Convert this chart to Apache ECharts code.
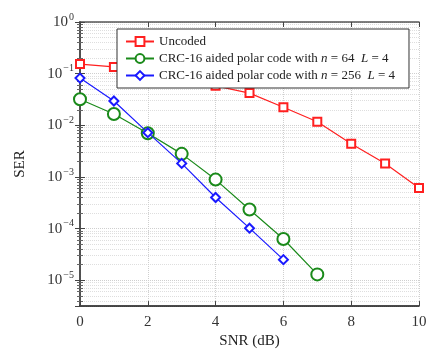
<!DOCTYPE html>
<html>
<head>
<meta charset="utf-8">
<script src="https://cdn.jsdelivr.net/npm/echarts@6/dist/echarts.min.js"></script>
<style>
  html, body { margin: 0; padding: 0; background: #fff; }
  #chart { width: 437px; height: 354px; }
</style>
</head>
<body>
<div id="chart"></div>
<script>
// SNR points (dB)
const snr = [0, 1, 2, 3, 4, 5, 6, 7, 8, 9, 10];

// SER
const uncoded = [0.153, 0.135, 0.105, 0.078, 0.058, 0.042, 0.0224, 0.0117, 0.0044, 0.00183, 0.00061];
const polar64 = [0.032, 0.0166, 0.0070, 0.0028, 0.00089, 0.000234, 0.000063, 0.000013];
const polar256 = [0.082, 0.0296, 0.0072, 0.00183, 0.0004, 0.000102, 0.0000251];

const seriesNames = [
  "Uncoded",
  "CRC-16 aided polar code with n = 64 L = 4",
  "CRC-16 aided polar code with n = 256 L = 4",
];

const RED = "#ff2020";
const GREEN = "#1a8a1a";
const BLUE = "#1a1aff";
const FONT = "Liberation Serif";
const GRIDLINE = "#cfcfcf";

const pairs = (ys) => ys.map((y, i) => [snr[i], y]);

const chart = echarts.init(document.getElementById("chart"));

// 10^k labels, blank for the non-decade bottom edge
const expLabel = (v) => {
  const e = Math.round(Math.log10(v));
  if (Math.abs(Math.log10(v) - e) > 1e-6) return "";
  const s = e < 0 ? "\u2212" + (-e) : String(e);
  return "{b|10}{s|" + s + "}";
};

const legendLabel = (name) => {
  const m = name.match(/^(CRC-16 aided polar code with) n = (\d+) L = (\d+)$/);
  if (!m) return name;
  return m[1] + " {i|n} = " + m[2] + "  {i|L} = " + m[3];
};

chart.setOption({
  animation: false,
  grid: { left: 80, right: 18, top: 22, bottom: 47 },
  legend: {
    data: seriesNames,
    orient: "vertical",
    left: 117, top: 29,
    padding: [6, 14, 6, 8],
    itemGap: 4,
    itemWidth: 28,
    itemHeight: 11,
    backgroundColor: "#fff",
    borderColor: "#333",
    borderWidth: 1,
    formatter: legendLabel,
    textStyle: {
      fontFamily: FONT, fontSize: 13, color: "#222",
      rich: { i: { fontFamily: FONT, fontStyle: "italic", fontSize: 13, color: "#222" } },
    },
  },
  xAxis: [
    {
      type: "value",
      min: 0, max: 10, interval: 2,
      name: "SNR (dB)",
      nameLocation: "middle",
      nameGap: 25,
      nameTextStyle: { fontFamily: FONT, fontSize: 15, color: "#222" },
      axisLine: { lineStyle: { color: "#111", width: 1.5 } },
      axisTick: { inside: true, length: 5, lineStyle: { color: "#444" } },
      axisLabel: { fontFamily: FONT, fontSize: 15, color: "#333", margin: 8 },
      splitLine: { show: true, lineStyle: { color: GRIDLINE, type: "dotted" } },
    },
    {
      type: "value",
      position: "top",
      min: 0, max: 10, interval: 2,
      axisLine: { lineStyle: { color: "#555", width: 1.5 } },
      axisTick: { inside: true, length: 5, lineStyle: { color: "#444" } },
      axisLabel: { show: false },
      splitLine: { show: false },
    },
  ],
  yAxis: [
    {
      type: "log",
      logBase: 10,
      min: Math.pow(10, -5.5), max: 1,
      name: "SER",
      nameLocation: "middle",
      nameGap: 52,
      nameTextStyle: { fontFamily: FONT, fontSize: 15, color: "#222" },
      axisLine: { show: true, lineStyle: { color: "#111", width: 1.5 } },
      axisTick: { inside: true, length: 5, lineStyle: { color: "#444" } },
      minorTick: { show: true, splitNumber: 9, length: 3, lineStyle: { color: "#666" } },
      axisLabel: {
        fontFamily: FONT, color: "#333", margin: 6,
        formatter: expLabel,
        rich: {
          b: { fontFamily: FONT, fontSize: 15, color: "#333" },
          s: { fontFamily: FONT, fontSize: 10, color: "#333", padding: [0, 0, 10, 1] },
        },
      },
      splitLine: { show: true, lineStyle: { color: GRIDLINE, type: "dotted" } },
      minorSplitLine: { show: true, lineStyle: { color: "#dedede", type: "dotted" } },
    },
    {
      type: "log",
      logBase: 10,
      position: "right",
      min: Math.pow(10, -5.5), max: 1,
      axisLine: { show: true, lineStyle: { color: "#555", width: 1.5 } },
      axisTick: { inside: true, length: 5, lineStyle: { color: "#444" } },
      minorTick: { show: true, splitNumber: 9, length: 3, lineStyle: { color: "#666" } },
      axisLabel: { show: false },
      splitLine: { show: false },
    },
  ],
  series: [
    {
      name: seriesNames[0],
      type: "line",
      data: pairs(uncoded),
      symbol: "emptyRect",
      symbolSize: 8,
      itemStyle: { color: RED, borderColor: RED, borderWidth: 1.2 },
      lineStyle: { color: RED, width: 1.2 },
      z: 2,
    },
    {
      name: seriesNames[1],
      type: "line",
      data: pairs(polar64),
      symbol: "emptyCircle",
      symbolSize: 12,
      itemStyle: { color: GREEN, borderColor: GREEN, borderWidth: 1.2 },
      lineStyle: { color: GREEN, width: 1.2 },
      z: 3,
    },
    {
      name: seriesNames[2],
      type: "line",
      data: pairs(polar256),
      symbol: "emptyDiamond",
      symbolSize: 9,
      itemStyle: { color: BLUE, borderColor: BLUE, borderWidth: 1.2 },
      lineStyle: { color: BLUE, width: 1.2 },
      z: 4,
    },
  ],
});
</script>
</body>
</html>
